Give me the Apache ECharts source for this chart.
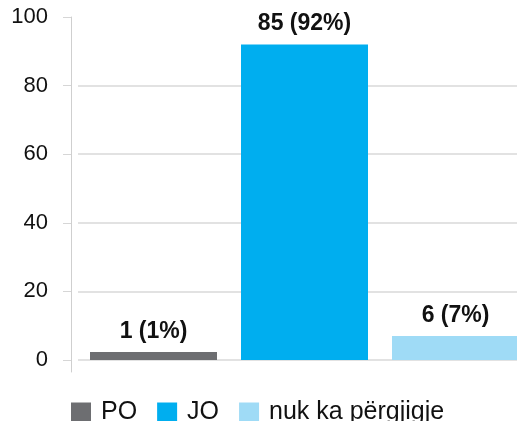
<!DOCTYPE html>
<html>
<head>
<meta charset="utf-8">
<script src="https://cdn.jsdelivr.net/npm/echarts@6/dist/echarts.min.js"></script>
<style>
  html, body { margin: 0; padding: 0; background: #fff; }
  #chart { width: 517px; height: 421px; }
</style>
</head>
<body>
<div id="chart"></div>
<script>
var categories = ['PO', 'JO', 'nuk ka përgjigje'];
var counts = [1, 85, 6];
var percents = [1, 92, 7];
var colors = ['#6d6e71', '#00aeef', '#9fdbf6'];
var yTicks = [0, 20, 40, 60, 80, 100];

var font = '"Liberation Sans", Arial, sans-serif';
var chart = echarts.init(document.getElementById('chart'));

var series = [];
for (var i = 0; i < categories.length; i++) {
  var d = [];
  for (var j = 0; j < categories.length; j++) {
    d.push(j === i ? percents[i] : '-');
  }
  series.push({
    name: categories[i],
    type: 'bar',
    stack: 'all',
    barWidth: 127,
    barMinHeight: 8,
    itemStyle: { color: colors[i] },
    label: {
      show: true,
      position: 'top',
      distance: 9,
      fontFamily: font,
      fontSize: 23,
      fontWeight: 'bold',
      color: '#111',
      formatter: (function (k) {
        return function () { return counts[k] + ' (' + percents[k] + '%)'; };
      })(i)
    },
    data: d
  });
}

var option = {
  animation: false,
  grid: { left: 78, width: 453, top: 17, bottom: 49, outerBoundsMode: 'none' },
  legend: {
    data: categories,
    left: 66,
    top: 395,
    itemWidth: 20,
    itemHeight: 20,
    itemGap: 20,
    icon: 'rect',
    textStyle: { fontFamily: font, fontSize: 25, color: '#111', padding: [0, 0, 0, 5] }
  },
  xAxis: {
    type: 'category',
    data: categories,
    axisLine: { show: false },
    axisTick: { show: false },
    axisLabel: { show: false }
  },
  yAxis: [{
    type: 'value',
    min: -3.5,
    max: 100,
    offset: 7,
    axisLine: { show: true, lineStyle: { color: '#cfcfcf', width: 1 } },
    axisTick: { show: true, length: 8, customValues: yTicks, lineStyle: { color: '#d6d6d6' } },
    axisLabel: { customValues: yTicks, margin: 23, fontFamily: font, fontSize: 22, color: '#111' },
    splitLine: { show: true, showMaxLine: false, lineStyle: { color: '#d9d9d9', width: 1.5 } }
  }, {
    type: 'value',
    min: -3.5,
    max: 100,
    offset: 7,
    axisLine: { show: false },
    axisTick: { show: true, inside: true, length: 7, customValues: [0, 20, 40, 60, 80], lineStyle: { color: '#d9d9d9', width: 1.5 } },
    axisLabel: { show: false },
    splitLine: { show: false }
  }],
  series: series
};
chart.setOption(option);
</script>
</body>
</html>
